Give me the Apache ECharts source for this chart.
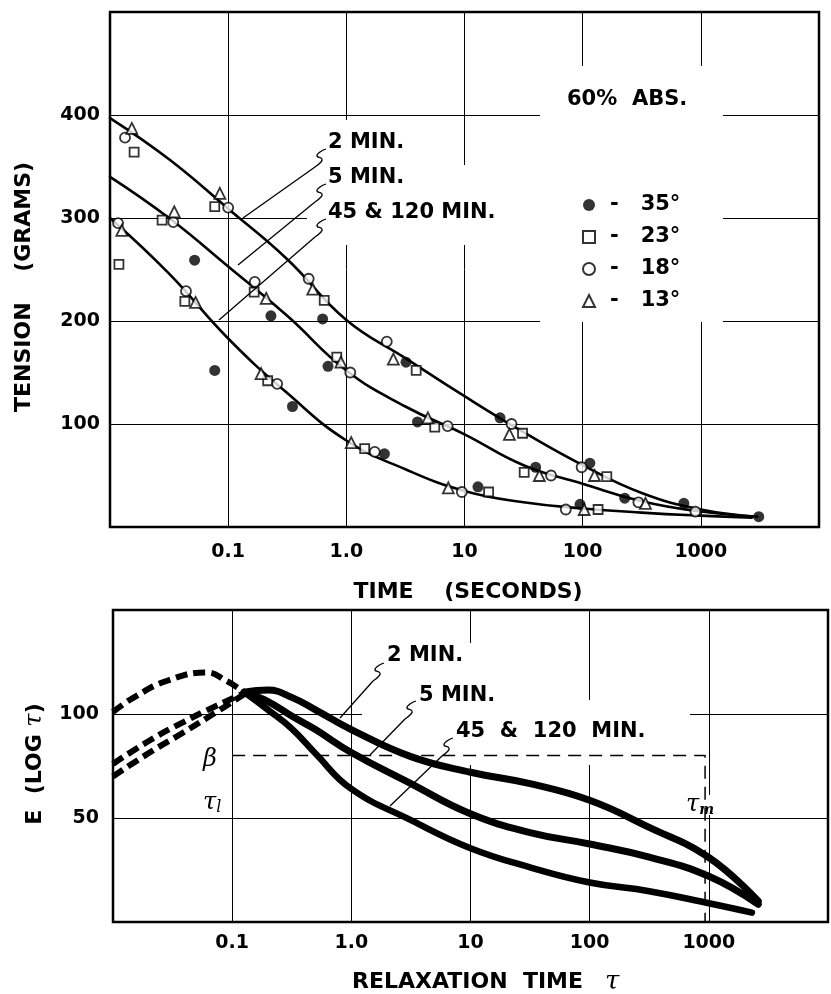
<!DOCTYPE html>
<html>
<head>
<meta charset="utf-8">
<script src="https://cdn.jsdelivr.net/npm/echarts@6/dist/echarts.min.js"></script>
<style>
  html, body { margin: 0; padding: 0; background: #fff; }
  #chart { width: 831px; height: 994px; }
</style>
</head>
<body>
<div id="chart"></div>
<script>
// tick labels, index = log10(t) + 2
var timeLabels = ['', '0.1', '1.0', '10', '100', '1000', ''];

// top chart: fitted tension curves [time s, grams]
var tension2min = [[0.01, 397], [0.0316, 357], [0.1, 309], [0.316, 260], [1, 201], [3.16, 164], [10, 127], [31.6, 92], [100, 60], [316, 33], [1000, 17], [3000, 10]];
var tension5min = [[0.01, 340], [0.0316, 300], [0.1, 253], [0.316, 205], [1, 152], [3.16, 117], [10, 90], [31.6, 60], [100, 42], [316, 25], [1000, 15], [3000, 10]];
var tension45min = [[0.01, 300], [0.0316, 246], [0.1, 183], [0.316, 130], [1, 84], [3.16, 56], [10, 35], [31.6, 24], [100, 18], [316, 14], [1000, 11], [2700, 9]];

// top chart: measured points by temperature
var pts35 = [[0.052, 259], [0.077, 152], [0.23, 205], [0.35, 117], [0.63, 202], [0.7, 156], [2.1, 71], [3.2, 160], [4.0, 102], [13, 39], [20, 106], [40, 58], [95, 22], [115, 62], [227, 28], [718, 23], [3090, 10]];
var pts23 = [[0.0119, 255], [0.016, 364], [0.0276, 298], [0.043, 219], [0.077, 311], [0.166, 228], [0.216, 142], [0.65, 220], [0.83, 165], [1.43, 76], [3.9, 152], [5.6, 97], [16, 34], [31, 91], [32, 53], [135, 17], [160, 49]];
var pts18 = [[0.0117, 295], [0.0134, 378], [0.0343, 296], [0.044, 229], [0.1, 310], [0.168, 238], [0.26, 139], [0.48, 241], [1.08, 150], [1.74, 73], [2.2, 180], [7.2, 98], [9.5, 34], [25, 100], [54, 50], [72, 17], [98, 58], [296, 24], [900, 15]];
var pts13 = [[0.0126, 288], [0.0153, 387], [0.035, 306], [0.053, 218], [0.085, 324], [0.19, 149], [0.21, 222], [0.52, 231], [0.9, 160], [1.1, 82], [2.5, 163], [4.9, 106], [7.3, 38], [24, 90], [43, 50], [103, 17], [126, 50], [340, 23]];

// bottom chart: relaxation spectra [tau, E]
var specDash1 = [[0.01, 101], [0.015, 108], [0.0285, 116], [0.061, 120], [0.089, 116], [0.126, 110.5]];
var specDash2 = [[0.01, 76], [0.0206, 87.5], [0.0386, 96], [0.074, 104], [0.126, 110]];
var specDash3 = [[0.01, 70], [0.0206, 81.7], [0.0386, 91], [0.074, 101], [0.126, 109.5]];
var spec2min = [[0.126, 110.5], [0.2, 111.5], [0.316, 108], [0.5, 102], [1, 92.5], [3.16, 79.5], [10, 72], [31.6, 66.5], [100, 58.5], [316, 45.5], [1000, 31], [2600, 10]];
var spec5min = [[0.126, 110.5], [0.2, 106], [0.316, 99], [0.5, 92.5], [1, 81.5], [3.16, 66.5], [10, 52], [31.6, 43], [100, 37.5], [316, 31.2], [1000, 22], [2600, 8.5]];
var spec45min = [[0.126, 110.5], [0.2, 102], [0.316, 93], [0.5, 81], [1, 64], [3.16, 49], [10, 35.5], [31.6, 26.3], [100, 19], [316, 14.8], [1000, 9], [2300, 4.5]];
var betaLine = [[0.1, 80], [930, 80], [930, 0]];

var FONT = '"DejaVu Sans", sans-serif';
var myChart = echarts.init(document.getElementById('chart'));

function timeFmt(v) {
    var k = Math.round(Math.log10(v)) + 2;
    return timeLabels[k] || '';
}
function labelStyle(margin) {
    return { formatter: null, margin: margin, color: '#000', fontFamily: FONT, fontWeight: 'bold', fontSize: 19 };
}
function xAxisOf(idx, margin) {
    var lab = labelStyle(margin);
    lab.formatter = timeFmt;
    return {
        type: 'log', logBase: 10, gridIndex: idx, min: 0.01, max: 10000,
        axisLine: { show: false }, axisTick: { show: false },
        splitLine: { show: true, lineStyle: { color: '#000', width: 1 } },
        axisLabel: lab
    };
}
function yAxisOf(idx, max, step, margin) {
    var lab = labelStyle(margin);
    lab.formatter = function (v) { return (v === 0 || v === max) ? '' : String(v); };
    return {
        type: 'value', gridIndex: idx, min: 0, max: max, interval: step,
        axisLine: { show: false }, axisTick: { show: false },
        splitLine: { show: true, lineStyle: { color: '#000', width: 1 } },
        axisLabel: lab
    };
}
function curve(data, xi, width, dash) {
    return {
        type: 'line', xAxisIndex: xi, yAxisIndex: xi, data: data, smooth: 0.45,
        symbol: 'none', silent: true, z: 3,
        lineStyle: { color: '#000', width: width, type: dash || 'solid', cap: dash ? 'butt' : 'round' }
    };
}
function points(name, data, symbol, size, filled) {
    return {
        type: 'scatter', name: name, xAxisIndex: 0, yAxisIndex: 0, data: data,
        symbol: symbol, symbolSize: size, z: 5,
        itemStyle: filled ? { color: '#000' } : { color: '#fff', borderColor: '#000', borderWidth: 1.8 }
    };
}

// annotation helpers (pixel space)
function txt(x, y, s, font, extra) {
    var st = { text: s, x: 0, y: 0, fill: '#000', font: font || ('bold 21px ' + FONT),
        textAlign: 'left', textVerticalAlign: 'middle', align: 'left', verticalAlign: 'middle' };
    if (extra) { for (var k in extra) st[k] = extra[k]; }
    return { type: 'text', x: x, y: y, style: st, z: 10, silent: true };
}
function leader(sx, sy, tx, ty) {
    var sq = [[sx, sy], [sx - 6, sy + 3], [sx - 9, sy + 7], [sx - 4, sy + 10], [sx - 5, sy + 13], [sx - 11, sy + 18]];
    return [
        { type: 'polyline', shape: { points: sq, smooth: 0.5 }, style: { stroke: '#000', lineWidth: 1.3, fill: null }, z: 10, silent: true },
        { type: 'line', shape: { x1: sx - 11, y1: sy + 18, x2: tx, y2: ty }, style: { stroke: '#000', lineWidth: 1.3 }, z: 10, silent: true }
    ];
}
function blank(x, y, w, h) {
    return { type: 'rect', shape: { x: x, y: y, width: w, height: h }, style: { fill: '#fff' }, z: 1, silent: true };
}

var graphics = [
    blank(540, 66, 183, 256), blank(307, 120, 123, 125), blank(430, 165, 110, 80),
    blank(362, 700, 328, 65), blank(420, 643, 120, 57), blank(681, 795, 31, 20),
    txt(328, 143, '2 MIN.'), txt(328, 178, '5 MIN.'), txt(328, 213, '45 & 120 MIN.'),
    txt(567, 100, '60%  ABS.'),
    txt(387, 656, '2 MIN.'), txt(419, 696, '5 MIN.'), txt(456, 732, '45  &  120  MIN.'),
    txt(203, 760, 'β', 'italic 24px "DejaVu Serif", serif'),
    txt(203, 803, '{a|τ}{b|l}', null, { rich: { a: { font: 'italic 24px "DejaVu Serif", serif' }, b: { font: 'italic 16px "DejaVu Serif", serif', padding: [10, 0, 0, 0] } } }),
    txt(686, 805, '{a|τ}{b|m}', null, { rich: { a: { font: 'italic 24px "DejaVu Serif", serif' }, b: { font: 'italic bold 14px "DejaVu Serif", serif', padding: [10, 0, 0, 0] } } }),
    txt(24, 287, 'TENSION    (GRAMS)', 'bold 22px ' + FONT, { textAlign: 'center', align: 'center' }),
    txt(468, 592, 'TIME    (SECONDS)', 'bold 22px ' + FONT, { textAlign: 'center', align: 'center' }),
    txt(352, 982, '{a|RELAXATION  TIME}   {b|τ}', null, { rich: { a: { font: 'bold 22px ' + FONT }, b: { font: 'italic 26px "DejaVu Serif", serif' } } }),
    txt(35, 764, '{a|E  (LOG }{b|τ}{a|)}', null, { textAlign: 'center', align: 'center', rich: { a: { font: 'bold 22px ' + FONT }, b: { font: 'italic 24px "DejaVu Serif", serif' } } })
];
graphics[graphics.length - 4].rotation = Math.PI / 2;
graphics[graphics.length - 1].rotation = Math.PI / 2;
graphics = graphics.concat(
    leader(326, 149, 243, 218), leader(326, 184, 238, 265), leader(326, 219, 219, 320),
    leader(384, 663, 340, 718), leader(416, 701, 370, 755), leader(453, 738, 390, 806)
);

var option = {
    animation: false,
    backgroundColor: '#fff',
    grid: [
        { left: 110, top: 12, width: 709, height: 515, show: true, borderColor: '#000', borderWidth: 2.5 },
        { left: 113, top: 610, width: 725, height: 312, show: true, borderColor: '#000', borderWidth: 2.5 }
    ],
    xAxis: [xAxisOf(0, 16), xAxisOf(1, 12)],
    yAxis: [yAxisOf(0, 500, 100, 10), yAxisOf(1, 150, 50, 14)],
    legend: {
        orient: 'vertical', left: 577, top: 189, itemWidth: 12, itemHeight: 12, itemGap: 10,
        selectedMode: false,
        data: [
            { name: '35°', icon: 'circle', itemStyle: { color: '#000' } },
            { name: '23°', icon: 'rect', itemStyle: { color: '#fff', borderColor: '#000', borderWidth: 2 } },
            { name: '18°', icon: 'circle', itemStyle: { color: '#fff', borderColor: '#000', borderWidth: 2 } },
            { name: '13°', icon: 'triangle', itemStyle: { color: '#fff', borderColor: '#000', borderWidth: 2 } }
        ],
        formatter: function (name) { return '-   ' + name; },
        textStyle: { color: '#000', fontFamily: FONT, fontWeight: 'bold', fontSize: 21, lineHeight: 22, padding: [0, 0, 0, 10] }
    },
    graphic: graphics,
    series: [
        curve(tension2min, 0, 2.6), curve(tension5min, 0, 2.6), curve(tension45min, 0, 2.6),
        points('35°', pts35, 'circle', 11, true),
        points('23°', pts23, 'rect', 9, false),
        points('18°', pts18, 'circle', 10, false),
        points('13°', pts13, 'triangle', 11, false),
        curve(specDash1, 1, 6, [12, 6]), curve(specDash2, 1, 6, [12, 6]), curve(specDash3, 1, 6, [12, 6]),
        curve(spec2min, 1, 7), curve(spec5min, 1, 7), curve(spec45min, 1, 6.5),
        {
            type: 'line', xAxisIndex: 1, yAxisIndex: 1, data: betaLine, symbol: 'none', silent: true, z: 3,
            lineStyle: { color: '#000', width: 1.5, type: [13, 8] }
        }
    ]
};
myChart.setOption(option);
</script>
</body>
</html>
